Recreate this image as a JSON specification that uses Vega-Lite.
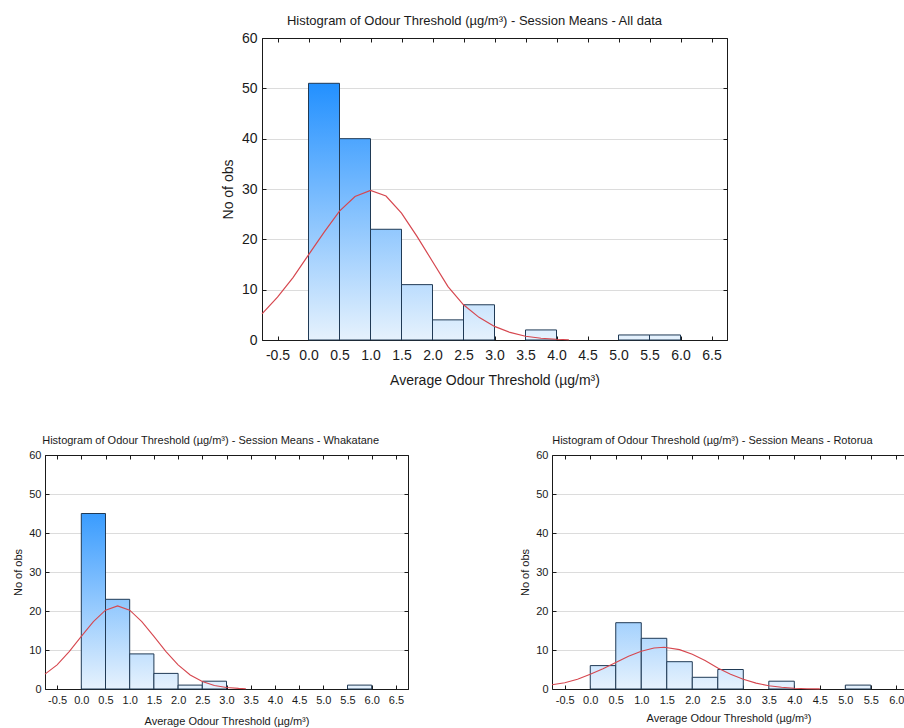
{
  "$schema": "https://vega.github.io/schema/vega-lite/v6.json",
  "padding": {"left": 12, "top": 14, "right": 0, "bottom": 0},
  "config": {
    "font": "Liberation Sans",
    "view": {"stroke": "#1a1a1a", "strokeWidth": 1},
    "axis": {"domainColor": "#1a1a1a", "tickColor": "#1a1a1a", "tickSize": -4, "labelColor": "#1a1a1a", "titleColor": "#1a1a1a", "titleFontWeight": "normal", "gridColor": "#dcdcdc", "labelFlush": false, "labelOverlap": false},
    "title": {"fontWeight": "normal", "color": "#1a1a1a", "anchor": "middle", "frame": "bounds"}
  },
  "datasets": {
    "allBars": [
      {"lo": 0, "hi": 0.5, "n": 51}, {"lo": 0.5, "hi": 1, "n": 40}, {"lo": 1, "hi": 1.5, "n": 22},
      {"lo": 1.5, "hi": 2, "n": 11}, {"lo": 2, "hi": 2.5, "n": 4}, {"lo": 2.5, "hi": 3, "n": 7},
      {"lo": 3.5, "hi": 4, "n": 2}, {"lo": 5, "hi": 5.5, "n": 1}, {"lo": 5.5, "hi": 6, "n": 1}
    ],
    "allCurve": [
      {"x": -0.75, "y": 5.2}, {"x": -0.5, "y": 8.5}, {"x": -0.25, "y": 12.4}, {"x": 0, "y": 16.9},
      {"x": 0.25, "y": 21.4}, {"x": 0.5, "y": 25.6}, {"x": 0.75, "y": 28.5}, {"x": 1, "y": 29.7},
      {"x": 1.25, "y": 28.6}, {"x": 1.5, "y": 25.2}, {"x": 1.75, "y": 20.6}, {"x": 2, "y": 15.6},
      {"x": 2.25, "y": 10.6}, {"x": 2.5, "y": 7.0}, {"x": 2.75, "y": 4.5}, {"x": 3, "y": 2.7},
      {"x": 3.25, "y": 1.5}, {"x": 3.5, "y": 0.75}, {"x": 3.75, "y": 0.35}, {"x": 4, "y": 0.15}, {"x": 4.2, "y": 0.05}
    ],
    "whkBars": [
      {"lo": 0, "hi": 0.5, "n": 45}, {"lo": 0.5, "hi": 1, "n": 23}, {"lo": 1, "hi": 1.5, "n": 9},
      {"lo": 1.5, "hi": 2, "n": 4}, {"lo": 2, "hi": 2.5, "n": 1}, {"lo": 2.5, "hi": 3, "n": 2},
      {"lo": 5.5, "hi": 6, "n": 1}
    ],
    "whkCurve": [
      {"x": -0.75, "y": 3.8}, {"x": -0.5, "y": 6.2}, {"x": -0.25, "y": 9.6}, {"x": 0, "y": 13.5},
      {"x": 0.25, "y": 17.3}, {"x": 0.5, "y": 20.2}, {"x": 0.75, "y": 21.3}, {"x": 1, "y": 20.2},
      {"x": 1.25, "y": 17.3}, {"x": 1.5, "y": 13.5}, {"x": 1.75, "y": 9.6}, {"x": 2, "y": 6.2},
      {"x": 2.25, "y": 3.6}, {"x": 2.5, "y": 1.9}, {"x": 2.75, "y": 0.9}, {"x": 3, "y": 0.4},
      {"x": 3.25, "y": 0.15}, {"x": 3.4, "y": 0.05}
    ],
    "rotBars": [
      {"lo": 0, "hi": 0.5, "n": 6}, {"lo": 0.5, "hi": 1, "n": 17}, {"lo": 1, "hi": 1.5, "n": 13},
      {"lo": 1.5, "hi": 2, "n": 7}, {"lo": 2, "hi": 2.5, "n": 3}, {"lo": 2.5, "hi": 3, "n": 5},
      {"lo": 3.5, "hi": 4, "n": 2}, {"lo": 5, "hi": 5.5, "n": 1}
    ],
    "rotCurve": [
      {"x": -0.75, "y": 1.1}, {"x": -0.5, "y": 1.6}, {"x": -0.25, "y": 2.5}, {"x": 0, "y": 3.8},
      {"x": 0.25, "y": 5.2}, {"x": 0.5, "y": 6.8}, {"x": 0.75, "y": 8.4}, {"x": 1, "y": 9.7},
      {"x": 1.25, "y": 10.5}, {"x": 1.45, "y": 10.7}, {"x": 1.75, "y": 10.1}, {"x": 2, "y": 8.9},
      {"x": 2.25, "y": 7.3}, {"x": 2.5, "y": 5.4}, {"x": 2.75, "y": 3.8}, {"x": 3, "y": 2.5},
      {"x": 3.25, "y": 1.5}, {"x": 3.5, "y": 0.85}, {"x": 3.75, "y": 0.45}, {"x": 4, "y": 0.2},
      {"x": 4.25, "y": 0.08}, {"x": 4.5, "y": 0.02}
    ]
  },
  "spacing": 46,
  "vconcat": [
    {
      "spacing": 0,
      "hconcat": [
        {"width": 175, "height": 1, "view": {"stroke": null}, "data": {"values": []}, "mark": "point", "encoding": {}},
        {
          "width": 465, "height": 302,
          "title": {"text": "Histogram of Odour Threshold (µg/m³) - Session Means - All data", "fontSize": 13, "offset": 3},
          "resolve": {"axis": {"x": "independent", "y": "independent"}},
          "layer": [
            {
              "data": {"name": "allBars"},
              "mark": {"type": "bar", "stroke": "#203a55", "strokeWidth": 1},
              "encoding": {
                "x": {"field": "lo", "type": "quantitative", "scale": {"domain": [-0.75, 6.75], "nice": false, "zero": false},
                  "axis": {"title": "Average Odour Threshold (µg/m³)", "values": [-0.5, 0, 0.5, 1, 1.5, 2, 2.5, 3, 3.5, 4, 4.5, 5, 5.5, 6, 6.5],
                    "labelExpr": "datum.value < 0 ? '-' + format(-datum.value, '.1f') : format(datum.value, '.1f')",
                    "labelFontSize": 14, "titleFontSize": 14, "grid": false, "labelPadding": 12, "titlePadding": 11}},
                "x2": {"field": "hi"},
                "y": {"field": "n", "type": "quantitative", "scale": {"domain": [0, 60], "nice": false},
                  "axis": {"title": "No of obs", "values": [0, 10, 20, 30, 40, 50, 60], "grid": true, "labelFontSize": 14, "titleFontSize": 14, "labelPadding": 9, "titlePadding": 6}},
                "y2": {"datum": 0},
                "fill": {
                  "condition": [
                    {"test": "datum.n >= 48", "value": {"gradient": "linear", "x1": 0, "y1": -0.176, "x2": 0, "y2": 1, "stops": [{"offset": 0, "color": "#007fff"}, {"offset": 1, "color": "#e6f2fd"}]}},
                    {"test": "datum.n >= 30", "value": {"gradient": "linear", "x1": 0, "y1": -0.5, "x2": 0, "y2": 1, "stops": [{"offset": 0, "color": "#007fff"}, {"offset": 1, "color": "#e6f2fd"}]}},
                    {"test": "datum.n >= 20", "value": {"gradient": "linear", "x1": 0, "y1": -1.727, "x2": 0, "y2": 1, "stops": [{"offset": 0, "color": "#007fff"}, {"offset": 1, "color": "#e6f2fd"}]}},
                    {"test": "datum.n >= 10", "value": {"gradient": "linear", "x1": 0, "y1": -4.45, "x2": 0, "y2": 1, "stops": [{"offset": 0, "color": "#007fff"}, {"offset": 1, "color": "#e6f2fd"}]}},
                    {"test": "datum.n >= 6", "value": {"gradient": "linear", "x1": 0, "y1": -7.57, "x2": 0, "y2": 1, "stops": [{"offset": 0, "color": "#007fff"}, {"offset": 1, "color": "#e6f2fd"}]}},
                    {"test": "datum.n >= 4", "value": {"gradient": "linear", "x1": 0, "y1": -14, "x2": 0, "y2": 1, "stops": [{"offset": 0, "color": "#007fff"}, {"offset": 1, "color": "#e6f2fd"}]}},
                    {"test": "datum.n >= 2", "value": {"gradient": "linear", "x1": 0, "y1": -29, "x2": 0, "y2": 1, "stops": [{"offset": 0, "color": "#007fff"}, {"offset": 1, "color": "#e6f2fd"}]}}
                  ],
                  "value": {"gradient": "linear", "x1": 0, "y1": -59, "x2": 0, "y2": 1, "stops": [{"offset": 0, "color": "#007fff"}, {"offset": 1, "color": "#e6f2fd"}]}
                }
              }
            },
            {
              "data": {"name": "allCurve"},
              "mark": {"type": "line", "color": "#d6474f", "strokeWidth": 1.2},
              "encoding": {
                "x": {"field": "x", "type": "quantitative", "scale": {"domain": [-0.75, 6.75], "nice": false, "zero": false},
                  "axis": {"orient": "top", "values": [-0.5, 0, 0.5, 1, 1.5, 2, 2.5, 3, 3.5, 4, 4.5, 5, 5.5, 6, 6.5], "labels": false, "title": null, "grid": false}},
                "y": {"field": "y", "type": "quantitative", "scale": {"domain": [0, 60], "nice": false},
                  "axis": {"orient": "right", "values": [0, 10, 20, 30, 40, 50, 60], "labels": false, "title": null, "grid": false}}
              }
            }
          ]
        }
      ]
    },
    {
      "spacing": 110,
      "hconcat": [
        {
          "width": 363, "height": 234,
          "title": {"text": "Histogram of Odour Threshold (µg/m³) - Session Means - Whakatane", "fontSize": 11, "offset": 3},
          "resolve": {"axis": {"x": "independent", "y": "independent"}},
          "layer": [
            {
              "data": {"name": "whkBars"},
              "mark": {"type": "bar", "stroke": "#203a55", "strokeWidth": 1},
              "encoding": {
                "x": {"field": "lo", "type": "quantitative", "scale": {"domain": [-0.75, 6.75], "nice": false, "zero": false},
                  "axis": {"title": "Average Odour Threshold (µg/m³)", "values": [-0.5, 0, 0.5, 1, 1.5, 2, 2.5, 3, 3.5, 4, 4.5, 5, 5.5, 6, 6.5],
                    "labelExpr": "datum.value < 0 ? '-' + format(-datum.value, '.1f') : format(datum.value, '.1f')",
                    "labelFontSize": 11, "titleFontSize": 11, "grid": false, "labelPadding": 9, "titlePadding": 10}},
                "x2": {"field": "hi"},
                "y": {"field": "n", "type": "quantitative", "scale": {"domain": [0, 60], "nice": false},
                  "axis": {"title": "No of obs", "values": [0, 10, 20, 30, 40, 50, 60], "grid": true, "labelFontSize": 11, "titleFontSize": 11, "labelPadding": 8, "titlePadding": 5}},
                "y2": {"datum": 0},
                "fill": {
                  "condition": [
                    {"test": "datum.n >= 42", "value": {"gradient": "linear", "x1": 0, "y1": -0.333, "x2": 0, "y2": 1, "stops": [{"offset": 0, "color": "#007fff"}, {"offset": 1, "color": "#e6f2fd"}]}},
                    {"test": "datum.n >= 20", "value": {"gradient": "linear", "x1": 0, "y1": -1.61, "x2": 0, "y2": 1, "stops": [{"offset": 0, "color": "#007fff"}, {"offset": 1, "color": "#e6f2fd"}]}},
                    {"test": "datum.n >= 8", "value": {"gradient": "linear", "x1": 0, "y1": -5.67, "x2": 0, "y2": 1, "stops": [{"offset": 0, "color": "#007fff"}, {"offset": 1, "color": "#e6f2fd"}]}},
                    {"test": "datum.n >= 4", "value": {"gradient": "linear", "x1": 0, "y1": -14, "x2": 0, "y2": 1, "stops": [{"offset": 0, "color": "#007fff"}, {"offset": 1, "color": "#e6f2fd"}]}},
                    {"test": "datum.n >= 2", "value": {"gradient": "linear", "x1": 0, "y1": -29, "x2": 0, "y2": 1, "stops": [{"offset": 0, "color": "#007fff"}, {"offset": 1, "color": "#e6f2fd"}]}}
                  ],
                  "value": {"gradient": "linear", "x1": 0, "y1": -59, "x2": 0, "y2": 1, "stops": [{"offset": 0, "color": "#007fff"}, {"offset": 1, "color": "#e6f2fd"}]}
                }
              }
            },
            {
              "data": {"name": "whkCurve"},
              "mark": {"type": "line", "color": "#d6474f", "strokeWidth": 1.1},
              "encoding": {
                "x": {"field": "x", "type": "quantitative", "scale": {"domain": [-0.75, 6.75], "nice": false, "zero": false},
                  "axis": {"orient": "top", "values": [-0.5, 0, 0.5, 1, 1.5, 2, 2.5, 3, 3.5, 4, 4.5, 5, 5.5, 6, 6.5], "labels": false, "title": null, "grid": false}},
                "y": {"field": "y", "type": "quantitative", "scale": {"domain": [0, 60], "nice": false},
                  "axis": {"orient": "right", "values": [0, 10, 20, 30, 40, 50, 60], "labels": false, "title": null, "grid": false}}
              }
            }
          ]
        },
        {
          "width": 353, "height": 234,
          "view": {"stroke": null},
          "title": {"text": "Histogram of Odour Threshold (µg/m³) - Session Means - Rotorua", "fontSize": 11, "offset": 3},
          "resolve": {"axis": {"x": "independent", "y": "independent"}},
          "layer": [
            {
              "data": {"name": "rotBars"},
              "mark": {"type": "bar", "stroke": "#203a55", "strokeWidth": 1},
              "encoding": {
                "x": {"field": "lo", "type": "quantitative", "scale": {"domain": [-0.75, 6.17], "nice": false, "zero": false},
                  "axis": {"title": "Average Odour Threshold (µg/m³)", "values": [-0.5, 0, 0.5, 1, 1.5, 2, 2.5, 3, 3.5, 4, 4.5, 5, 5.5, 6],
                    "labelExpr": "datum.value < 0 ? '-' + format(-datum.value, '.1f') : format(datum.value, '.1f')",
                    "labelFontSize": 11, "titleFontSize": 11, "grid": false, "labelPadding": 9, "titlePadding": 7}},
                "x2": {"field": "hi"},
                "y": {"field": "n", "type": "quantitative", "scale": {"domain": [0, 60], "nice": false},
                  "axis": {"title": "No of obs", "values": [0, 10, 20, 30, 40, 50, 60], "grid": true, "labelFontSize": 11, "titleFontSize": 11, "labelPadding": 8, "titlePadding": 5}},
                "y2": {"datum": 0},
                "fill": {
                  "condition": [
                    {"test": "datum.n >= 15", "value": {"gradient": "linear", "x1": 0, "y1": -2.53, "x2": 0, "y2": 1, "stops": [{"offset": 0, "color": "#007fff"}, {"offset": 1, "color": "#e6f2fd"}]}},
                    {"test": "datum.n >= 12", "value": {"gradient": "linear", "x1": 0, "y1": -3.615, "x2": 0, "y2": 1, "stops": [{"offset": 0, "color": "#007fff"}, {"offset": 1, "color": "#e6f2fd"}]}},
                    {"test": "datum.n >= 7", "value": {"gradient": "linear", "x1": 0, "y1": -7.57, "x2": 0, "y2": 1, "stops": [{"offset": 0, "color": "#007fff"}, {"offset": 1, "color": "#e6f2fd"}]}},
                    {"test": "datum.n >= 6", "value": {"gradient": "linear", "x1": 0, "y1": -9, "x2": 0, "y2": 1, "stops": [{"offset": 0, "color": "#007fff"}, {"offset": 1, "color": "#e6f2fd"}]}},
                    {"test": "datum.n >= 5", "value": {"gradient": "linear", "x1": 0, "y1": -11, "x2": 0, "y2": 1, "stops": [{"offset": 0, "color": "#007fff"}, {"offset": 1, "color": "#e6f2fd"}]}},
                    {"test": "datum.n >= 3", "value": {"gradient": "linear", "x1": 0, "y1": -19, "x2": 0, "y2": 1, "stops": [{"offset": 0, "color": "#007fff"}, {"offset": 1, "color": "#e6f2fd"}]}},
                    {"test": "datum.n >= 2", "value": {"gradient": "linear", "x1": 0, "y1": -29, "x2": 0, "y2": 1, "stops": [{"offset": 0, "color": "#007fff"}, {"offset": 1, "color": "#e6f2fd"}]}}
                  ],
                  "value": {"gradient": "linear", "x1": 0, "y1": -59, "x2": 0, "y2": 1, "stops": [{"offset": 0, "color": "#007fff"}, {"offset": 1, "color": "#e6f2fd"}]}
                }
              }
            },
            {
              "data": {"name": "rotCurve"},
              "mark": {"type": "line", "color": "#d6474f", "strokeWidth": 1.1},
              "encoding": {
                "x": {"field": "x", "type": "quantitative", "scale": {"domain": [-0.75, 6.17], "nice": false, "zero": false},
                  "axis": {"orient": "top", "values": [-0.5, 0, 0.5, 1, 1.5, 2, 2.5, 3, 3.5, 4, 4.5, 5, 5.5, 6], "labels": false, "title": null, "grid": false}},
                "y": {"field": "y", "type": "quantitative", "scale": {"domain": [0, 60], "nice": false}, "axis": null}
              }
            }
          ]
        }
      ]
    }
  ]
}
